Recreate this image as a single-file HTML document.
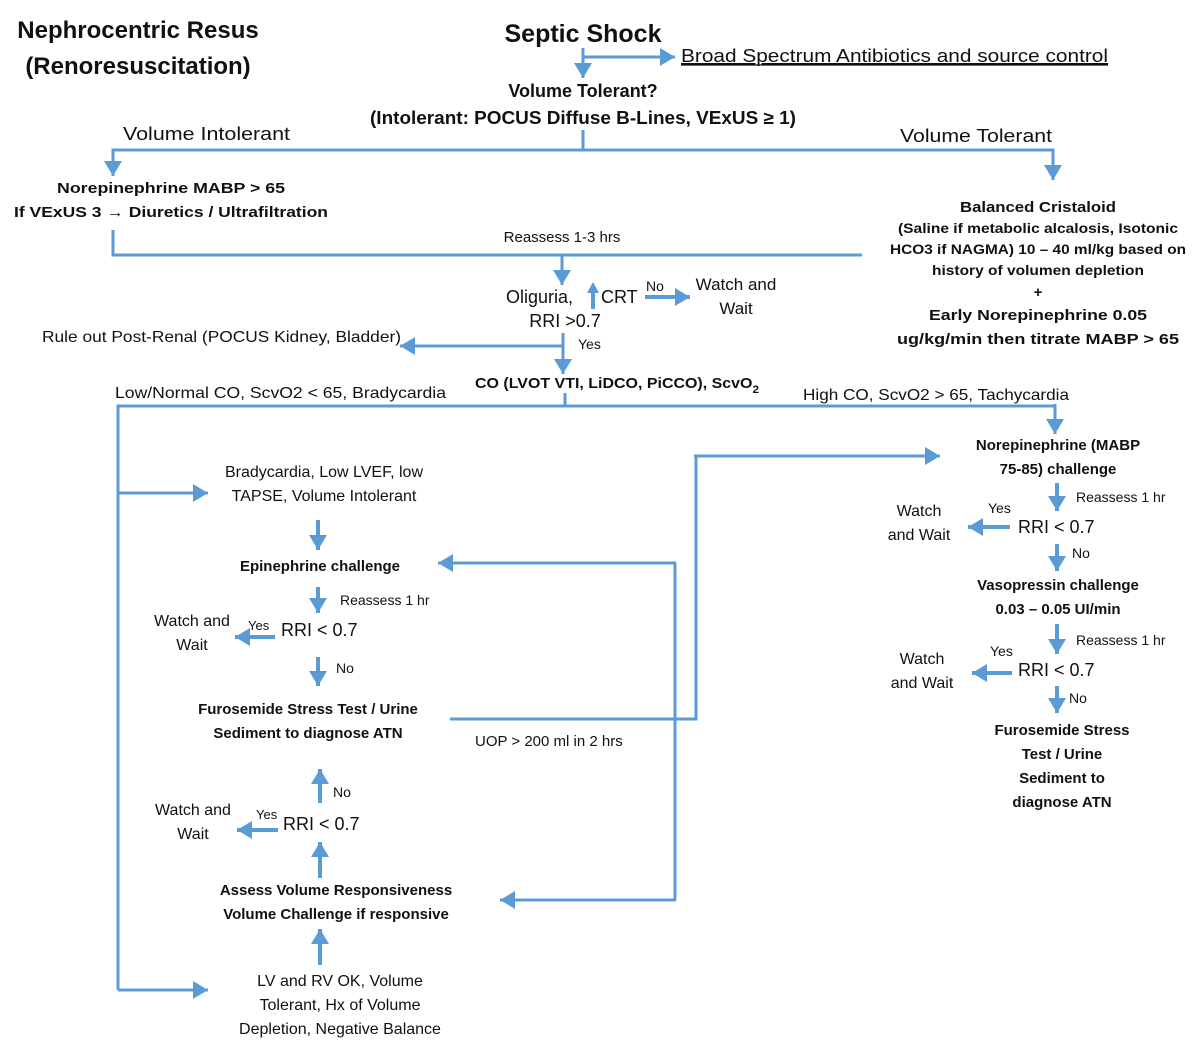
<!DOCTYPE html>
<html><head><meta charset="utf-8"><style>
html,body{margin:0;padding:0;background:#fff}
svg{display:block}
text{font-family:"Liberation Sans",sans-serif;fill:#111}
.b{font-weight:bold}
</style></head><body>
<svg width="1200" height="1063" viewBox="0 0 1200 1063" xmlns="http://www.w3.org/2000/svg">
<defs>
<marker id="a" markerUnits="userSpaceOnUse" markerWidth="16" markerHeight="18" refX="15" refY="9" orient="auto">
<path d="M0,0 L15,9 L0,18 z" fill="#5b9bd5"/></marker>
</defs>
<g stroke="#5b9bd5" fill="none" stroke-width="3">
<!-- top -->
<line x1="583" y1="48" x2="583" y2="78" marker-end="url(#a)"/>
<line x1="583" y1="57" x2="675" y2="57" marker-end="url(#a)"/>
<line x1="583" y1="130" x2="583" y2="150"/>
<polyline points="113,176 113,150 1053,150 1053,180"/>
<line x1="113" y1="155" x2="113" y2="176" marker-end="url(#a)"/>
<line x1="1053" y1="155" x2="1053" y2="180" marker-end="url(#a)"/>
<polyline points="113,230 113,255 862,255"/>
<line x1="562" y1="255" x2="562" y2="285" marker-end="url(#a)"/>
<line x1="593" y1="308" x2="593" y2="283" stroke-width="4" marker-end="url(#a)" style="display:none"/>
<line x1="645" y1="297" x2="690" y2="297" stroke-width="4" marker-end="url(#a)"/>
<line x1="563" y1="346" x2="400" y2="346" marker-end="url(#a)"/>
<line x1="563" y1="333" x2="563" y2="374" marker-end="url(#a)"/>
<line x1="565" y1="393" x2="565" y2="406"/>
<polyline points="118,990 118,406 1055,406"/>
<line x1="1055" y1="404" x2="1055" y2="434" marker-end="url(#a)"/>
<line x1="118" y1="493" x2="208" y2="493" marker-end="url(#a)"/>
<line x1="118" y1="990" x2="208" y2="990" marker-end="url(#a)"/>
<!-- left column -->
<line x1="318" y1="520" x2="318" y2="550" stroke-width="4" marker-end="url(#a)"/>
<line x1="318" y1="587" x2="318" y2="613" stroke-width="4" marker-end="url(#a)"/>
<line x1="275" y1="637" x2="235" y2="637" stroke-width="4" marker-end="url(#a)"/>
<line x1="318" y1="657" x2="318" y2="686" stroke-width="4" marker-end="url(#a)"/>
<polyline points="450,719 696,719 696,456"/>
<line x1="694" y1="456" x2="940" y2="456" marker-end="url(#a)"/>
<polyline points="675,563 675,900"/>
<line x1="676" y1="563" x2="438" y2="563" marker-end="url(#a)"/>
<line x1="676" y1="900" x2="500" y2="900" marker-end="url(#a)"/>
<line x1="320" y1="803" x2="320" y2="769" stroke-width="4" marker-end="url(#a)"/>
<line x1="278" y1="830" x2="237" y2="830" stroke-width="4" marker-end="url(#a)"/>
<line x1="320" y1="878" x2="320" y2="842" stroke-width="4" marker-end="url(#a)"/>
<line x1="320" y1="965" x2="320" y2="929" stroke-width="4" marker-end="url(#a)"/>
<!-- right column -->
<line x1="1057" y1="483" x2="1057" y2="511" stroke-width="4" marker-end="url(#a)"/>
<line x1="1010" y1="527" x2="968" y2="527" stroke-width="4" marker-end="url(#a)"/>
<line x1="1057" y1="544" x2="1057" y2="571" stroke-width="4" marker-end="url(#a)"/>
<line x1="1057" y1="624" x2="1057" y2="654" stroke-width="4" marker-end="url(#a)"/>
<line x1="1012" y1="673" x2="972" y2="673" stroke-width="4" marker-end="url(#a)"/>
<line x1="1057" y1="686" x2="1057" y2="713" stroke-width="4" marker-end="url(#a)"/>
</g>
<!-- small up arrow by CRT -->
<rect x="591" y="292" width="4" height="17" fill="#5b9bd5"/>
<path d="M587,293 L593,282 L599,293 z" fill="#5b9bd5"/>

<text class="b" x="138" y="38" font-size="24" text-anchor="middle">Nephrocentric Resus</text>
<text class="b" x="138" y="74" font-size="24" text-anchor="middle">(Renoresuscitation)</text>
<text class="b" x="583" y="42" font-size="25" text-anchor="middle">Septic Shock</text>
<text x="681" y="62" font-size="18" textLength="427" lengthAdjust="spacingAndGlyphs" text-decoration="underline">Broad Spectrum Antibiotics and source control</text>
<line x1="681" y1="65" x2="1108" y2="65" stroke="#111" stroke-width="1.3"/>
<text class="b" x="583" y="97" font-size="18" text-anchor="middle">Volume Tolerant?</text>
<text class="b" x="583" y="124" font-size="18" text-anchor="middle" textLength="426" lengthAdjust="spacingAndGlyphs">(Intolerant: POCUS Diffuse B-Lines, VExUS ≥ 1)</text>
<text x="123" y="140" font-size="18" textLength="167" lengthAdjust="spacingAndGlyphs">Volume Intolerant</text>
<text x="900" y="142" font-size="18" textLength="152" lengthAdjust="spacingAndGlyphs">Volume Tolerant</text>
<text class="b" x="171" y="193" font-size="15" text-anchor="middle" textLength="228" lengthAdjust="spacingAndGlyphs">Norepinephrine  MABP &gt; 65</text>
<text class="b" x="14" y="217" font-size="15" textLength="314" lengthAdjust="spacingAndGlyphs">If VExUS 3 → Diuretics / Ultrafiltration</text>

<g class="b" font-size="15" text-anchor="middle">
<text class="b" x="1038" y="212" textLength="156" lengthAdjust="spacingAndGlyphs">Balanced  Cristaloid</text>
<text class="b" x="1038" y="233" font-size="14" textLength="280" lengthAdjust="spacingAndGlyphs">(Saline if metabolic alcalosis, Isotonic</text>
<text class="b" x="1038" y="254" font-size="14" textLength="296" lengthAdjust="spacingAndGlyphs">HCO3 if NAGMA) 10 – 40 ml/kg based on</text>
<text class="b" x="1038" y="275" font-size="14" textLength="212" lengthAdjust="spacingAndGlyphs">history of volumen depletion</text>
<text class="b" x="1038" y="297">+</text>
<text class="b" x="1038" y="320" textLength="218" lengthAdjust="spacingAndGlyphs">Early Norepinephrine  0.05</text>
<text class="b" x="1038" y="344" textLength="282" lengthAdjust="spacingAndGlyphs">ug/kg/min then titrate MABP &gt; 65</text>
</g>

<text x="562" y="242" font-size="15" text-anchor="middle">Reassess  1-3 hrs</text>
<text x="506" y="303" font-size="18">Oliguria,</text>
<text x="601" y="303" font-size="18">CRT</text>
<text x="565" y="327" font-size="18" text-anchor="middle">RRI &gt;0.7</text>
<text x="646" y="291" font-size="14">No</text>
<text x="736" y="290" font-size="17" text-anchor="middle">Watch and</text>
<text x="736" y="314" font-size="17" text-anchor="middle">Wait</text>
<text x="42" y="342" font-size="16" textLength="359" lengthAdjust="spacingAndGlyphs">Rule out Post-Renal (POCUS Kidney, Bladder)</text>
<text x="578" y="349" font-size="14">Yes</text>
<text class="b" x="475" y="388" font-size="15" textLength="284" lengthAdjust="spacingAndGlyphs">CO (LVOT VTI, LiDCO, PiCCO), ScvO<tspan font-size="11" dy="5">2</tspan></text>
<text x="115" y="398" font-size="16" textLength="331" lengthAdjust="spacingAndGlyphs">Low/Normal CO, ScvO2 &lt; 65, Bradycardia</text>
<text x="803" y="400" font-size="16" textLength="266" lengthAdjust="spacingAndGlyphs">High CO, ScvO2 &gt; 65, Tachycardia</text>

<g font-size="16" text-anchor="middle">
<text x="324" y="477">Bradycardia, Low LVEF, low</text>
<text x="324" y="501">TAPSE, Volume Intolerant</text>
<text class="b" x="320" y="571" font-size="15">Epinephrine  challenge</text>
<text x="192" y="626">Watch and</text>
<text x="192" y="650">Wait</text>
<text class="b" x="308" y="714" font-size="15">Furosemide Stress Test / Urine</text>
<text class="b" x="308" y="738" font-size="15">Sediment to diagnose  ATN</text>
<text x="193" y="815">Watch and</text>
<text x="193" y="839">Wait</text>
<text class="b" x="336" y="895" font-size="15">Assess Volume Responsiveness</text>
<text class="b" x="336" y="919" font-size="15">Volume Challenge if responsive</text>
<text x="340" y="986">LV and RV OK, Volume</text>
<text x="340" y="1010">Tolerant, Hx of Volume</text>
<text x="340" y="1034">Depletion, Negative Balance</text>
</g>
<text x="340" y="605" font-size="14">Reassess 1 hr</text>
<text x="281" y="636" font-size="18">RRI &lt; 0.7</text>
<text x="248" y="630" font-size="13">Yes</text>
<text x="336" y="673" font-size="14">No</text>
<text x="475" y="746" font-size="15">UOP &gt; 200 ml in 2 hrs</text>
<text x="333" y="797" font-size="14">No</text>
<text x="283" y="830" font-size="18">RRI &lt; 0.7</text>
<text x="256" y="819" font-size="13">Yes</text>

<g font-size="15" text-anchor="middle">
<text class="b" x="1058" y="450">Norepinephrine  (MABP</text>
<text class="b" x="1058" y="474">75-85) challenge</text>
<text x="919" y="516" font-size="16">Watch</text>
<text x="919" y="540" font-size="16">and Wait</text>
<text class="b" x="1058" y="590">Vasopressin  challenge</text>
<text class="b" x="1058" y="614">0.03 – 0.05 UI/min</text>
<text x="922" y="664" font-size="16">Watch</text>
<text x="922" y="688" font-size="16">and Wait</text>
<text class="b" x="1062" y="735">Furosemide  Stress</text>
<text class="b" x="1062" y="759">Test / Urine</text>
<text class="b" x="1062" y="783">Sediment to</text>
<text class="b" x="1062" y="807">diagnose  ATN</text>
</g>
<text x="1076" y="502" font-size="14">Reassess 1 hr</text>
<text x="1018" y="533" font-size="18">RRI &lt; 0.7</text>
<text x="988" y="513" font-size="14">Yes</text>
<text x="1072" y="558" font-size="14">No</text>
<text x="1076" y="645" font-size="14">Reassess 1 hr</text>
<text x="1018" y="676" font-size="18">RRI &lt; 0.7</text>
<text x="990" y="656" font-size="14">Yes</text>
<text x="1069" y="703" font-size="14">No</text>
</svg>
</body></html>
